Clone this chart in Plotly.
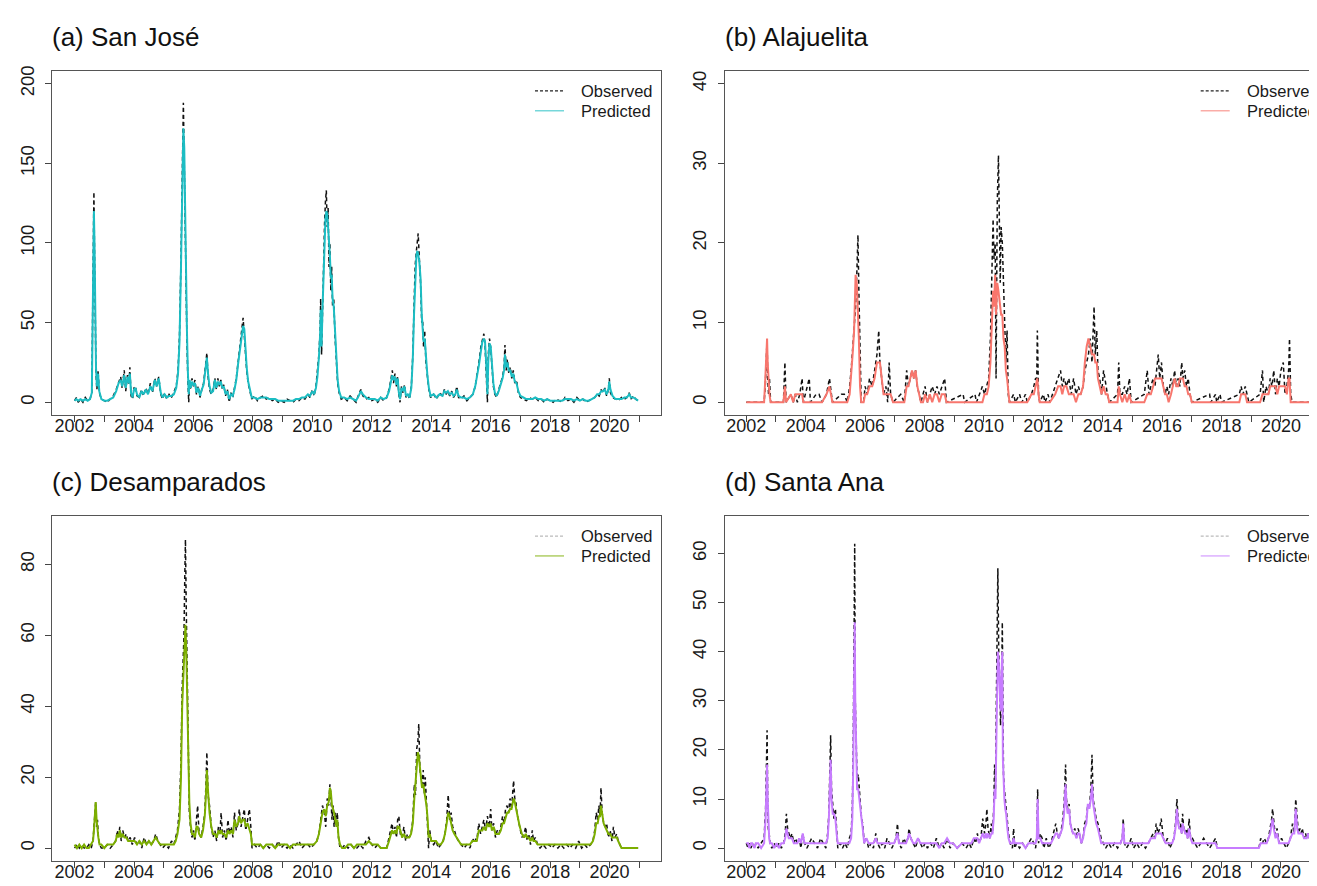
import plotly.graph_objects as go

# ---------------- data (decimal years, weekly counts) ----------------
# (a) San José
sj_t = [2002.00, 2002.06, 2002.12, 2002.20, 2002.28, 2002.36, 2002.44, 2002.52, 2002.58, 2002.61,
        2002.63, 2002.65, 2002.67, 2002.69, 2002.72, 2002.75, 2002.79, 2002.83, 2002.90, 2003.00,
        2003.10, 2003.20, 2003.30, 2003.40, 2003.48, 2003.55, 2003.60, 2003.67, 2003.72, 2003.78,
        2003.83, 2003.86, 2003.90, 2003.95, 2004.00, 2004.05, 2004.10, 2004.18, 2004.25, 2004.32,
        2004.40, 2004.47, 2004.55, 2004.62, 2004.70, 2004.76, 2004.83, 2004.90, 2004.96, 2005.03,
        2005.10, 2005.18, 2005.26, 2005.34, 2005.42, 2005.48, 2005.53, 2005.58, 2005.62, 2005.66,
        2005.69, 2005.72, 2005.75, 2005.78, 2005.81, 2005.84, 2005.87, 2005.91, 2005.95, 2006.00,
        2006.05, 2006.10, 2006.16, 2006.22, 2006.28, 2006.34, 2006.40, 2006.45, 2006.49, 2006.54,
        2006.60, 2006.66, 2006.72, 2006.77, 2006.82, 2006.87, 2006.92, 2006.97, 2007.02, 2007.08,
        2007.14, 2007.20, 2007.26, 2007.32, 2007.38, 2007.44, 2007.50, 2007.56, 2007.62, 2007.67,
        2007.71, 2007.75, 2007.79, 2007.84, 2007.90, 2007.96, 2008.05, 2008.15, 2008.25, 2008.35,
        2008.45, 2008.55, 2008.65, 2008.75, 2008.85, 2008.95, 2009.05, 2009.15, 2009.25, 2009.35,
        2009.45, 2009.55, 2009.65, 2009.75, 2009.85, 2009.92, 2010.00, 2010.06, 2010.12, 2010.17,
        2010.22, 2010.26, 2010.28, 2010.31, 2010.34, 2010.37, 2010.41, 2010.44, 2010.47, 2010.50,
        2010.53, 2010.56, 2010.59, 2010.62, 2010.65, 2010.68, 2010.72, 2010.76, 2010.80, 2010.85,
        2010.90, 2010.97, 2011.07, 2011.17, 2011.27, 2011.37, 2011.47, 2011.56, 2011.63, 2011.70,
        2011.80, 2011.90, 2012.00, 2012.10, 2012.20, 2012.30, 2012.40, 2012.50, 2012.58, 2012.64,
        2012.69, 2012.73, 2012.78, 2012.83, 2012.87, 2012.91, 2012.95, 2013.00, 2013.05, 2013.10,
        2013.15, 2013.21, 2013.27, 2013.33, 2013.38, 2013.42, 2013.46, 2013.50, 2013.53, 2013.56,
        2013.60, 2013.64, 2013.68, 2013.71, 2013.74, 2013.78, 2013.82, 2013.87, 2013.92, 2013.98,
        2014.08, 2014.18, 2014.28, 2014.38, 2014.44, 2014.50, 2014.56, 2014.62, 2014.69, 2014.75,
        2014.81, 2014.86, 2014.92, 2015.00, 2015.10, 2015.20, 2015.30, 2015.40, 2015.48, 2015.55,
        2015.61, 2015.67, 2015.72, 2015.77, 2015.81, 2015.85, 2015.89, 2015.92, 2015.96, 2016.00,
        2016.04, 2016.09, 2016.14, 2016.20, 2016.27, 2016.34, 2016.40, 2016.45, 2016.48, 2016.52,
        2016.56, 2016.61, 2016.66, 2016.71, 2016.76, 2016.81, 2016.87, 2016.93, 2017.00, 2017.10,
        2017.20, 2017.30, 2017.40, 2017.50, 2017.60, 2017.70, 2017.80, 2017.90, 2018.00, 2018.10,
        2018.20, 2018.30, 2018.40, 2018.50, 2018.60, 2018.70, 2018.80, 2018.90, 2019.00, 2019.10,
        2019.20, 2019.30, 2019.40, 2019.50, 2019.58, 2019.65, 2019.72, 2019.78, 2019.84, 2019.90,
        2019.96, 2019.99, 2020.03, 2020.10, 2020.20, 2020.30, 2020.40, 2020.50, 2020.58, 2020.66,
        2020.72, 2020.80, 2020.88, 2020.96]
sj_obs = [1, 3, 0, 2, 0, 3, 1, 2, 6, 60,
          118, 132, 95, 60, 18, 8, 20, 6, 2, 1,
          0, 2, 4, 8, 13, 16, 9, 20, 7, 17,
          11, 22, 4, 2, 9, 10, 4, 3, 8, 4,
          9, 5, 12, 6, 15, 10, 16, 5, 2, 6,
          2, 5, 3, 6, 10, 20, 42, 90, 150, 188,
          150, 100, 62, 38, 15, 0, 12, 8, 15, 10,
          14, 5, 10, 3, 8, 12, 22, 31, 16, 8,
          5, 8, 15, 8, 15, 10, 14, 8, 11, 4,
          8, 0, 6, 3, 9, 15, 25, 36, 46, 53,
          42, 30, 20, 12, 6, 2, 4, 1, 3, 4,
          2, 3, 1, 2, 0, 1, 0, 2, 1, 0,
          2, 1, 3, 2, 5, 3, 8, 4, 10, 18,
          30, 45, 65, 30, 62, 85, 112, 126, 133, 110,
          122, 85, 100, 70, 85, 60, 65, 42, 26, 12,
          6, 2, 3, 1, 4, 2, 0, 5, 8, 4,
          2, 3, 1, 2, 0, 3, 1, 3, 8, 14,
          20, 12, 18, 10, 16, 5, 0, 10, 6, 11,
          3, 5, 2, 10, 30, 60, 86, 95, 100, 106,
          90, 75, 50, 52, 35, 45, 25, 15, 8, 3,
          5, 2, 6, 4, 8, 5, 7, 4, 7, 3,
          5, 10, 3, 2, 4, 1, 3, 5, 10, 18,
          26, 35, 40, 43, 36, 20, 0, 30, 40, 34,
          20, 10, 5, 3, 8, 12, 16, 22, 36, 20,
          27, 18, 22, 15, 20, 12, 14, 6, 3, 2,
          1, 3, 2, 3, 1, 2, 0, 2, 1, 0,
          2, 1, 0, 3, 1, 2, 0, 3, 1, 2,
          0, 1, 2, 3, 5, 4, 8, 6, 9, 4,
          8, 15, 6, 3, 2, 1, 3, 2, 3, 6,
          2, 4, 2, 1]
sj_pred = [1, 2, 1, 2, 1, 2, 1, 2, 6, 55,
           110, 120, 100, 65, 22, 10, 18, 7, 2, 1,
           1, 2, 3, 7, 12, 14, 10, 17, 9, 16,
           12, 18, 6, 3, 8, 9, 5, 3, 7, 5,
           8, 5, 10, 7, 14, 10, 15, 6, 3, 5,
           3, 4, 4, 5, 9, 18, 38, 85, 140, 172,
           160, 112, 70, 45, 20, 5, 14, 9, 13, 11,
           12, 6, 9, 4, 8, 11, 20, 28, 18, 10,
           6, 7, 14, 9, 13, 11, 13, 9, 10, 5,
           7, 2, 5, 4, 8, 14, 24, 32, 42, 48,
           46, 33, 22, 13, 7, 3, 3, 2, 3, 3,
           3, 2, 2, 2, 1, 1, 1, 1, 1, 1,
           2, 2, 3, 3, 5, 4, 7, 5, 9, 16,
           28, 42, 58, 35, 58, 80, 102, 115, 120, 118,
           110, 95, 92, 78, 80, 65, 60, 46, 29, 14,
           7, 3, 3, 2, 3, 2, 1, 4, 7, 5,
           3, 2, 2, 2, 1, 3, 2, 3, 7, 12,
           17, 14, 16, 11, 15, 6, 2, 9, 7, 10,
           4, 5, 3, 9, 28, 55, 80, 92, 95, 93,
           88, 78, 55, 48, 38, 40, 28, 17, 9, 4,
           5, 3, 5, 4, 7, 6, 7, 5, 6, 4,
           5, 8, 4, 3, 3, 2, 3, 5, 10, 17,
           24, 32, 38, 40, 38, 24, 5, 26, 37, 35,
           24, 12, 6, 4, 7, 11, 15, 20, 30, 22,
           25, 20, 20, 16, 18, 13, 12, 7, 4, 3,
           2, 2, 2, 3, 2, 2, 1, 2, 1, 1,
           1, 1, 1, 2, 2, 2, 1, 2, 1, 2,
           1, 1, 2, 3, 5, 5, 7, 7, 8, 5,
           8, 13, 8, 4, 2, 2, 2, 3, 3, 5,
           3, 3, 2, 1]

# (b) Alajuelita
al_t = [2002.00, 2002.60, 2002.64, 2002.67, 2002.70, 2002.72, 2002.75, 2002.78, 2002.82, 2003.25,
        2003.30, 2003.34, 2003.50, 2003.58, 2003.65, 2003.72, 2003.80, 2003.88, 2003.92, 2004.12,
        2004.16, 2004.35, 2004.45, 2004.55, 2004.70, 2004.80, 2004.85, 2004.90, 2005.20, 2005.30,
        2005.40, 2005.48, 2005.53, 2005.58, 2005.63, 2005.68, 2005.72, 2005.76, 2005.79, 2005.83,
        2005.87, 2005.95, 2006.00, 2006.07, 2006.15, 2006.24, 2006.32, 2006.40, 2006.46, 2006.50,
        2006.56, 2006.62, 2006.70, 2006.76, 2006.81, 2006.86, 2006.94, 2007.20, 2007.32, 2007.40,
        2007.46, 2007.52, 2007.58, 2007.64, 2007.70, 2007.76, 2007.82, 2007.88, 2007.95, 2008.02,
        2008.10, 2008.18, 2008.26, 2008.34, 2008.42, 2008.50, 2008.58, 2008.68, 2008.74, 2009.30,
        2009.35, 2009.70, 2009.75, 2009.95, 2010.02, 2010.10, 2010.16, 2010.22, 2010.27, 2010.31,
        2010.34, 2010.38, 2010.41, 2010.45, 2010.49, 2010.52, 2010.55, 2010.58, 2010.62, 2010.66,
        2010.70, 2010.74, 2010.78, 2010.82, 2010.86, 2011.00, 2011.06, 2011.20, 2011.28, 2011.40,
        2011.46, 2011.60, 2011.68, 2011.74, 2011.78, 2011.80, 2011.84, 2011.88, 2012.00, 2012.06,
        2012.16, 2012.22, 2012.40, 2012.50, 2012.58, 2012.64, 2012.70, 2012.78, 2012.86, 2012.94,
        2013.02, 2013.10, 2013.18, 2013.26, 2013.34, 2013.40, 2013.46, 2013.52, 2013.58, 2013.64,
        2013.71, 2013.75, 2013.80, 2013.84, 2013.90, 2013.96, 2014.03, 2014.10, 2014.16, 2014.22,
        2014.50, 2014.54, 2014.58, 2014.66, 2014.74, 2014.82, 2014.90, 2014.96, 2015.40, 2015.50,
        2015.56, 2015.62, 2015.70, 2015.76, 2015.82, 2015.87, 2015.92, 2015.98, 2016.04, 2016.10,
        2016.16, 2016.22, 2016.30, 2016.36, 2016.42, 2016.48, 2016.54, 2016.60, 2016.66, 2016.70,
        2016.76, 2016.82, 2016.88, 2016.94, 2017.00, 2017.60, 2017.64, 2017.80, 2017.84, 2017.95,
        2018.00, 2018.60, 2018.66, 2018.72, 2018.80, 2018.86, 2018.92, 2019.30, 2019.38, 2019.42,
        2019.50, 2019.58, 2019.64, 2019.70, 2019.76, 2019.82, 2019.88, 2019.94, 2020.00, 2020.08,
        2020.14, 2020.20, 2020.26, 2020.29, 2020.33, 2020.38, 2020.96]
al_obs = [0, 0, 2, 6, 8, 3, 1, 3, 0, 0,
          5, 0, 1, 0, 1, 0, 1, 3, 0, 3,
          0, 1, 1, 0, 1, 3, 1, 0, 1, 1,
          0, 2, 4, 7, 9, 12, 16, 21, 14, 7,
          0, 0, 2, 1, 3, 2, 4, 6, 9, 5,
          3, 1, 2, 0, 5, 1, 0, 1, 0, 4,
          2, 3, 4, 3, 4, 2, 1, 0, 1, 2,
          0, 1, 2, 1, 2, 1, 2, 3, 0, 1,
          0, 1, 0, 2, 1, 2, 3, 8, 15, 23,
          18, 20, 3, 25, 31, 22, 15, 22, 20, 15,
          10, 5, 9, 1, 0, 1, 0, 1, 0, 1,
          0, 1, 2, 3, 3, 9, 1, 0, 1, 0,
          1, 0, 2, 3, 4, 2, 3, 2, 3, 1,
          3, 1, 2, 1, 2, 4, 5, 6, 8, 5,
          12, 6, 9, 4, 3, 1, 4, 2, 1, 0,
          1, 5, 1, 1, 2, 1, 3, 0, 1, 4,
          1, 2, 3, 2, 4, 6, 3, 5, 2, 1,
          2, 1, 3, 2, 4, 2, 3, 2, 5, 3,
          4, 2, 3, 1, 0, 1, 0, 1, 0, 1,
          0, 1, 2, 1, 2, 1, 0, 1, 4, 0,
          2, 1, 3, 2, 4, 1, 3, 2, 4, 5,
          1, 2, 4, 8, 1, 0, 0]
al_pred = [0, 0, 3, 6, 8, 5, 2, 1, 0, 0,
           2, 0, 1, 0, 1, 1, 1, 1, 0, 0,
           0, 0, 0, 0, 1, 2, 1, 0, 0, 0,
           0, 1, 3, 6, 9, 16, 15, 12, 8, 2,
           0, 0, 1, 1, 2, 2, 3, 5, 5, 5,
           3, 1, 1, 1, 1, 1, 0, 0, 0, 2,
           2, 3, 4, 3, 4, 2, 1, 0, 0, 1,
           0, 1, 0, 1, 1, 0, 1, 1, 0, 0,
           0, 0, 0, 0, 1, 1, 2, 5, 10, 14,
           12, 16, 11, 15, 14, 13, 12, 11, 11, 8,
           7, 4, 3, 1, 0, 0, 0, 0, 0, 0,
           0, 1, 1, 2, 3, 3, 1, 0, 0, 0,
           0, 0, 1, 2, 2, 1, 2, 2, 1, 1,
           1, 0, 1, 1, 2, 5, 7, 8, 7, 6,
           6, 5, 5, 3, 2, 1, 2, 1, 1, 0,
           0, 2, 1, 0, 1, 0, 1, 0, 0, 1,
           1, 1, 2, 3, 3, 3, 3, 3, 2, 1,
           1, 0, 1, 2, 3, 2, 2, 3, 3, 3,
           2, 2, 1, 1, 0, 0, 0, 0, 0, 0,
           0, 0, 1, 1, 1, 0, 0, 0, 1, 1,
           1, 1, 2, 2, 2, 2, 1, 2, 2, 2,
           2, 1, 3, 3, 0, 0, 0]

# (c) Desamparados
de_t = [2002.00, 2002.08, 2002.16, 2002.24, 2002.32, 2002.40, 2002.48, 2002.56, 2002.62, 2002.66,
        2002.69, 2002.71, 2002.74, 2002.77, 2002.80, 2002.84, 2002.90, 2003.00, 2003.10, 2003.20,
        2003.30, 2003.38, 2003.44, 2003.48, 2003.52, 2003.57, 2003.62, 2003.68, 2003.74, 2003.80,
        2003.87, 2003.94, 2004.02, 2004.10, 2004.18, 2004.26, 2004.34, 2004.42, 2004.50, 2004.58,
        2004.66, 2004.73, 2004.80, 2004.88, 2004.96, 2005.06, 2005.16, 2005.26, 2005.34, 2005.40,
        2005.46, 2005.53, 2005.58, 2005.62, 2005.65, 2005.68, 2005.71, 2005.73, 2005.76, 2005.79,
        2005.82, 2005.86, 2005.90, 2005.95, 2006.00, 2006.05, 2006.10, 2006.14, 2006.19, 2006.26,
        2006.32, 2006.38, 2006.42, 2006.45, 2006.49, 2006.54, 2006.60, 2006.66, 2006.72, 2006.78,
        2006.84, 2006.89, 2006.93, 2006.98, 2007.04, 2007.10, 2007.16, 2007.21, 2007.27, 2007.33,
        2007.38, 2007.44, 2007.50, 2007.54, 2007.60, 2007.66, 2007.71, 2007.76, 2007.82, 2007.88,
        2007.93, 2007.97, 2008.05, 2008.15, 2008.25, 2008.35, 2008.45, 2008.55, 2008.65, 2008.75,
        2008.85, 2008.95, 2009.05, 2009.15, 2009.25, 2009.35, 2009.45, 2009.55, 2009.65, 2009.75,
        2009.85, 2009.95, 2010.05, 2010.15, 2010.22, 2010.28, 2010.34, 2010.40, 2010.45, 2010.50,
        2010.55, 2010.59, 2010.62, 2010.66, 2010.70, 2010.73, 2010.77, 2010.81, 2010.84, 2010.88,
        2010.93, 2011.00, 2011.10, 2011.20, 2011.30, 2011.40, 2011.50, 2011.60, 2011.70, 2011.80,
        2011.90, 2012.00, 2012.10, 2012.20, 2012.30, 2012.40, 2012.50, 2012.58, 2012.63, 2012.68,
        2012.73, 2012.78, 2012.83, 2012.87, 2012.91, 2012.96, 2013.02, 2013.08, 2013.14, 2013.20,
        2013.26, 2013.32, 2013.38, 2013.43, 2013.47, 2013.51, 2013.55, 2013.58, 2013.62, 2013.66,
        2013.69, 2013.73, 2013.77, 2013.80, 2013.84, 2013.88, 2013.91, 2013.95, 2014.00, 2014.08,
        2014.16, 2014.24, 2014.32, 2014.40, 2014.46, 2014.52, 2014.57, 2014.62, 2014.67, 2014.72,
        2014.78, 2014.85, 2014.92, 2015.00, 2015.10, 2015.20, 2015.30, 2015.38, 2015.46, 2015.53,
        2015.60, 2015.66, 2015.72, 2015.77, 2015.83, 2015.89, 2015.95, 2016.00, 2016.04, 2016.10,
        2016.16, 2016.22, 2016.28, 2016.34, 2016.40, 2016.45, 2016.50, 2016.55, 2016.60, 2016.65,
        2016.70, 2016.74, 2016.77, 2016.81, 2016.85, 2016.88, 2016.93, 2016.98, 2017.05, 2017.12,
        2017.18, 2017.22, 2017.28, 2017.34, 2017.40, 2017.44, 2017.50, 2017.58, 2017.66, 2017.76,
        2017.86, 2017.96, 2018.06, 2018.16, 2018.26, 2018.36, 2018.46, 2018.56, 2018.66, 2018.76,
        2018.86, 2018.96, 2019.06, 2019.16, 2019.26, 2019.36, 2019.44, 2019.50, 2019.55, 2019.60,
        2019.64, 2019.68, 2019.71, 2019.75, 2019.80, 2019.85, 2019.90, 2019.96, 2020.02, 2020.08,
        2020.13, 2020.18, 2020.24, 2020.29, 2020.34, 2020.40, 2020.60, 2020.96]
de_obs = [0, 1, 0, 1, 0, 0, 1, 0, 2, 6,
          11, 13, 6, 8, 3, 1, 0, 0, 1, 0,
          1, 2, 5, 3, 6, 2, 5, 3, 4, 2,
          3, 1, 3, 1, 2, 0, 3, 1, 2, 1,
          2, 4, 2, 1, 0, 1, 0, 2, 1, 3,
          5, 11, 25, 45, 52, 60, 78, 87, 66, 48,
          25, 10, 6, 3, 5, 2, 8, 12, 4, 3,
          6, 10, 18, 27, 15, 12, 6, 3, 5, 2,
          6, 4, 10, 3, 5, 2, 8, 4, 6, 3,
          10, 5, 7, 11, 6, 9, 11, 5, 8, 11,
          6, 0, 1, 0, 1, 0, 1, 0, 1, 0,
          2, 0, 1, 0, 1, 0, 1, 2, 0, 1,
          1, 0, 1, 2, 4, 8, 12, 10, 6, 14,
          12, 18, 15, 8, 12, 6, 10, 7, 10, 3,
          0, 0, 1, 0, 1, 0, 0, 1, 0, 2,
          3, 1, 0, 1, 0, 0, 0, 3, 5, 7,
          4, 6, 3, 8, 9, 4, 3, 6, 2, 4,
          3, 4, 8, 18, 15, 28, 30, 35, 22, 20,
          18, 22, 15, 20, 12, 8, 0, 5, 2, 1,
          2, 0, 1, 2, 4, 8, 15, 8, 10, 6,
          5, 3, 2, 1, 0, 1, 0, 2, 3, 2,
          7, 4, 6, 8, 5, 9, 6, 11, 5, 7,
          3, 5, 4, 6, 9, 7, 11, 12, 10, 14,
          11, 16, 19, 14, 13, 10, 8, 5, 3, 4,
          6, 2, 4, 1, 5, 2, 3, 1, 0, 1,
          0, 1, 0, 1, 0, 1, 0, 1, 0, 1,
          0, 2, 0, 1, 0, 1, 2, 5, 10, 8,
          12, 9, 17, 10, 7, 6, 7, 3, 5, 2,
          6, 3, 4, 2, 1, 0, 0, 0]
de_pred = [1, 0, 1, 0, 1, 0, 0, 1, 2, 6,
           10, 13, 8, 5, 3, 1, 1, 0, 1, 1,
           1, 2, 4, 3, 5, 3, 4, 3, 3, 2,
           2, 2, 2, 1, 2, 1, 2, 1, 2, 1,
           2, 3, 2, 1, 1, 1, 1, 1, 1, 2,
           4, 8, 20, 40, 46, 50, 60, 63, 55, 42,
           28, 13, 7, 4, 4, 3, 6, 6, 4, 3,
           5, 9, 15, 22, 16, 10, 6, 4, 4, 3,
           5, 4, 5, 4, 4, 3, 5, 4, 5, 4,
           8, 6, 7, 9, 7, 8, 8, 6, 7, 5,
           4, 1, 1, 1, 1, 0, 1, 1, 1, 0,
           1, 1, 1, 1, 0, 1, 1, 1, 1, 1,
           1, 1, 1, 2, 4, 7, 10, 11, 9, 12,
           13, 17, 16, 12, 11, 10, 8, 6, 8, 3,
           1, 0, 0, 1, 1, 0, 1, 1, 1, 1,
           2, 1, 1, 1, 0, 0, 0, 2, 4, 5,
           4, 5, 4, 6, 6, 5, 3, 4, 3, 3,
           3, 4, 7, 14, 18, 24, 27, 26, 22, 18,
           17, 18, 16, 15, 12, 8, 3, 4, 2, 2,
           2, 1, 1, 2, 4, 7, 10, 9, 7, 5,
           4, 3, 2, 1, 1, 1, 1, 2, 2, 2,
           5, 5, 5, 6, 5, 7, 6, 7, 5, 6,
           4, 4, 4, 5, 7, 7, 9, 10, 10, 11,
           11, 13, 14, 13, 11, 10, 8, 6, 4, 3,
           4, 3, 3, 2, 3, 2, 2, 1, 1, 1,
           1, 1, 1, 1, 1, 1, 1, 1, 1, 1,
           1, 1, 1, 1, 1, 1, 2, 4, 7, 7,
           9, 9, 12, 9, 7, 6, 5, 4, 4, 3,
           3, 3, 3, 2, 1, 0, 0, 0]

# (d) Santa Ana
sa_t = [2002.00, 2002.06, 2002.10, 2002.16, 2002.20, 2002.28, 2002.32, 2002.40, 2002.50, 2002.60,
        2002.65, 2002.68, 2002.70, 2002.72, 2002.74, 2002.77, 2002.80, 2002.86, 2002.94, 2003.02,
        2003.10, 2003.18, 2003.26, 2003.31, 2003.35, 2003.39, 2003.43, 2003.48, 2003.54, 2003.60,
        2003.66, 2003.72, 2003.78, 2003.84, 2003.90, 2003.96, 2004.04, 2004.12, 2004.20, 2004.30,
        2004.40, 2004.50, 2004.60, 2004.68, 2004.74, 2004.78, 2004.81, 2004.84, 2004.87, 2004.91,
        2004.95, 2005.00, 2005.04, 2005.08, 2005.16, 2005.24, 2005.32, 2005.40, 2005.47, 2005.53,
        2005.57, 2005.60, 2005.63, 2005.65, 2005.67, 2005.70, 2005.73, 2005.77, 2005.80, 2005.84,
        2005.88, 2005.92, 2005.97, 2006.04, 2006.12, 2006.20, 2006.28, 2006.36, 2006.42, 2006.50,
        2006.58, 2006.66, 2006.74, 2006.82, 2006.90, 2006.98, 2007.04, 2007.09, 2007.14, 2007.22,
        2007.30, 2007.38, 2007.44, 2007.48, 2007.54, 2007.62, 2007.70, 2007.78, 2007.86, 2007.94,
        2008.02, 2008.10, 2008.20, 2008.30, 2008.40, 2008.50, 2008.58, 2008.66, 2008.76, 2008.86,
        2008.96, 2009.10, 2009.26, 2009.40, 2009.50, 2009.58, 2009.66, 2009.72, 2009.78, 2009.84,
        2009.90, 2009.96, 2010.02, 2010.07, 2010.10, 2010.14, 2010.20, 2010.25, 2010.29, 2010.33,
        2010.36, 2010.39, 2010.42, 2010.45, 2010.47, 2010.50, 2010.53, 2010.56, 2010.59, 2010.62,
        2010.64, 2010.66, 2010.69, 2010.72, 2010.75, 2010.79, 2010.83, 2010.88, 2010.96, 2011.00,
        2011.04, 2011.10, 2011.20, 2011.30, 2011.40, 2011.50, 2011.60, 2011.68, 2011.74, 2011.78,
        2011.81, 2011.84, 2011.90, 2011.96, 2012.02, 2012.10, 2012.18, 2012.26, 2012.34, 2012.42,
        2012.47, 2012.52, 2012.58, 2012.64, 2012.70, 2012.75, 2012.78, 2012.82, 2012.87, 2012.91,
        2012.95, 2013.00, 2013.06, 2013.12, 2013.17, 2013.22, 2013.28, 2013.34, 2013.39, 2013.45,
        2013.50, 2013.55, 2013.60, 2013.64, 2013.68, 2013.73, 2013.78, 2013.84, 2013.90, 2013.95,
        2014.02, 2014.10, 2014.20, 2014.30, 2014.40, 2014.50, 2014.60, 2014.66, 2014.69, 2014.73,
        2014.80, 2014.90, 2014.96, 2015.04, 2015.14, 2015.24, 2015.34, 2015.44, 2015.54, 2015.62,
        2015.70, 2015.76, 2015.80, 2015.86, 2015.92, 2015.97, 2016.04, 2016.12, 2016.18, 2016.26,
        2016.34, 2016.40, 2016.45, 2016.50, 2016.54, 2016.58, 2016.62, 2016.66, 2016.69, 2016.73,
        2016.78, 2016.82, 2016.86, 2016.91, 2016.96, 2017.02, 2017.10, 2017.20, 2017.30, 2017.40,
        2017.50, 2017.60, 2017.70, 2017.80, 2017.86, 2019.26, 2019.32, 2019.38, 2019.44, 2019.52,
        2019.58, 2019.64, 2019.69, 2019.72, 2019.76, 2019.82, 2019.87, 2019.94, 2020.02, 2020.10,
        2020.18, 2020.26, 2020.32, 2020.39, 2020.45, 2020.50, 2020.55, 2020.59, 2020.64, 2020.68,
        2020.72, 2020.78, 2020.83, 2020.87, 2020.92, 2020.96]
sa_obs = [1, 0, 1, 0, 1, 0, 1, 0, 1, 2,
          8, 20, 24, 10, 4, 3, 1, 0, 1, 0,
          1, 0, 1, 3, 7, 4, 3, 2, 3, 1,
          2, 1, 2, 0, 3, 1, 0, 1, 2, 1,
          0, 2, 1, 0, 3, 7, 15, 23, 12, 8,
          6, 8, 4, 0, 1, 0, 1, 0, 2, 3,
          8, 20, 45, 62, 30, 18, 14, 15, 12, 10,
          6, 5, 1, 2, 0, 1, 0, 3, 1, 0,
          1, 0, 2, 1, 0, 1, 2, 5, 1, 0,
          2, 1, 2, 4, 2, 1, 0, 2, 1, 0,
          1, 0, 1, 0, 2, 0, 1, 0, 2, 0,
          1, 0, 1, 0, 1, 0, 2, 1, 3, 1,
          2, 6, 3, 5, 8, 4, 2, 5, 3, 8,
          17, 12, 30, 45, 57, 40, 35, 25, 30, 46,
          20, 15, 12, 10, 8, 5, 3, 1, 0, 4,
          0, 1, 0, 1, 0, 1, 2, 1, 0, 2,
          12, 1, 3, 2, 0, 2, 0, 1, 3, 5,
          3, 2, 3, 5, 9, 17, 10, 8, 9, 5,
          4, 3, 4, 2, 4, 3, 1, 2, 5, 6,
          9, 8, 12, 19, 10, 8, 6, 5, 3, 2,
          1, 0, 1, 0, 1, 0, 1, 2, 6, 1,
          0, 1, 2, 0, 1, 0, 1, 0, 1, 2,
          3, 2, 5, 3, 4, 6, 2, 1, 2, 0,
          1, 2, 5, 10, 6, 4, 5, 3, 7, 4,
          3, 4, 2, 6, 2, 2, 1, 0, 1, 2,
          1, 0, 1, 2, 0, 0, 2, 1, 2, 1,
          2, 4, 6, 8, 5, 2, 4, 1, 2, 1,
          0, 1, 2, 5, 3, 10, 5, 3, 4, 3,
          4, 2, 3, 2, 3, 2]
sa_pred = [1, 1, 0, 1, 1, 0, 1, 1, 0, 1,
           6, 15, 17, 10, 4, 2, 1, 1, 0, 1,
           0, 1, 1, 2, 4, 3, 2, 2, 2, 1,
           1, 1, 2, 1, 3, 1, 1, 1, 1, 1,
           1, 1, 1, 1, 2, 6, 12, 18, 10, 7,
           7, 6, 3, 1, 1, 1, 1, 1, 1, 2,
           6, 16, 35, 46, 30, 15, 12, 12, 10, 8,
           6, 4, 1, 2, 1, 1, 1, 2, 1, 1,
           1, 1, 1, 1, 1, 1, 2, 3, 1, 1,
           1, 1, 2, 3, 2, 1, 1, 2, 1, 1,
           1, 1, 1, 1, 1, 0, 1, 1, 2, 1,
           1, 0, 1, 1, 1, 1, 2, 2, 2, 1,
           2, 3, 2, 3, 2, 3, 2, 3, 3, 6,
           12, 10, 22, 35, 40, 38, 30, 28, 35, 40,
           18, 12, 10, 8, 7, 4, 2, 1, 1, 2,
           1, 1, 1, 1, 0, 1, 1, 1, 1, 2,
           10, 2, 2, 1, 1, 1, 1, 1, 2, 3,
           3, 2, 3, 4, 7, 13, 9, 7, 8, 5,
           4, 3, 3, 2, 3, 3, 1, 2, 4, 5,
           9, 8, 10, 13, 9, 7, 5, 4, 2, 1,
           1, 1, 1, 1, 1, 1, 1, 2, 5, 1,
           1, 1, 1, 1, 1, 1, 1, 1, 1, 2,
           2, 2, 3, 3, 3, 3, 2, 1, 1, 1,
           1, 2, 4, 8, 5, 4, 4, 3, 5, 4,
           3, 3, 2, 4, 2, 1, 1, 1, 1, 1,
           1, 1, 1, 1, 0, 0, 1, 1, 1, 1,
           2, 3, 5, 6, 4, 2, 3, 1, 1, 1,
           1, 1, 2, 3, 3, 8, 4, 3, 3, 3,
           3, 2, 2, 2, 3, 2]

titles = ["(a) San José", "(b) Alajuelita", "(c) Desamparados", "(d) Santa Ana"]
legend_labels = ["Observed", "Predicted"]
pred_colors = ["#1CBDC3", "#F8766D", "#7CAE00", "#C77CFF"]
obs_legend_colors = ["#222222", "#222222", "#BBBBBB", "#BBBBBB"]
y_tick_sets = [[0, 50, 100, 150, 200], [0, 10, 20, 30, 40],
               [0, 20, 40, 60, 80], [0, 10, 20, 30, 40, 50, 60]]
y_limits = [(0, 200), (0, 40), (0, 90), (0, 65)]
year_ticks = list(range(2002, 2022))
year_labels = [str(y) if y % 2 == 0 else "" for y in year_ticks]

panels = [(sj_t, sj_obs, sj_pred), (al_t, al_obs, al_pred),
          (de_t, de_obs, de_pred), (sa_t, sa_obs, sa_pred)]

# ---------------- layout geometry (pixels) ----------------
W, H = 1317, 886
FONT = "Liberation Sans, Arial, Helvetica, sans-serif"
box_x = [(44, 652.7), (716.7, 1317), (44, 652.7), (716.7, 1317)]
box_y = [(58.3, 404.3), (58.3, 404.3), (506, 852.7), (506, 852.7)]
x_ranges = [(2001.24, 2021.72), (2001.273, 2021.485), (2001.24, 2021.72), (2001.273, 2021.485)]


def px(x):
    return x / W


def py(y):
    return 1 - y / H


fig = go.Figure()
shapes = []
annotations = []
axis_common = dict(showgrid=False, zeroline=False, ticks="outside", ticklen=6, tickwidth=1,
                   tickcolor="#444", linecolor="#555", linewidth=1.2, showline=True)

for i, (t, obs, pred) in enumerate(panels):
    n = i + 1
    xa = "x" if n == 1 else f"x{n}"
    ya = "y" if n == 1 else f"y{n}"
    fig.add_trace(go.Scatter(x=t, y=obs, mode="lines", xaxis=xa, yaxis=ya, showlegend=False,
                             line=dict(color="#111111", width=1.5, dash="4px,3px"),
                             name="Observed"))
    fig.add_trace(go.Scatter(x=t, y=pred, mode="lines", xaxis=xa, yaxis=ya, showlegend=False,
                             line=dict(color=pred_colors[i], width=2), name="Predicted"))

    lo, hi = y_limits[i]
    ext = 0.04 * (hi - lo)
    right_panel = i in (1, 3)
    fig.layout[f"xaxis{'' if n == 1 else n}"] = dict(
        axis_common, domain=[px(box_x[i][0]), px(box_x[i][1])], range=list(x_ranges[i]),
        anchor=ya, tickvals=year_ticks, ticktext=year_labels, mirror=True,
        ticklabelstandoff=-12, tickfont=dict(family=FONT, size=18, color="#1a1a1a"))
    fig.layout[f"yaxis{'' if n == 1 else n}"] = dict(
        axis_common, domain=[py(box_y[i][1]), py(box_y[i][0])], range=[lo - ext, hi + ext],
        anchor=xa, tickvals=y_tick_sets[i], tickangle=-90, mirror=not right_panel,
        ticklabelstandoff=4, tickfont=dict(family=FONT, size=18.5, color="#1a1a1a"))

    # title
    annotations.append(dict(text=titles[i], x=px(box_x[i][0] - 2), y=py(box_y[i][0] - 34),
                            xref="paper", yref="paper", xanchor="left", yanchor="middle",
                            showarrow=False, font=dict(family=FONT, size=26, color="#111")))
    # legend
    lx0 = box_x[i][0] + (483 if not right_panel else 476)
    ly_obs = box_y[i][0] + 20
    ly_pred = box_y[i][0] + 40
    shapes.append(dict(type="line", xref="paper", yref="paper", x0=px(lx0), x1=px(lx0 + 29),
                       y0=py(ly_obs), y1=py(ly_obs),
                       line=dict(color=obs_legend_colors[i], width=1.3, dash="3px,2px")))
    shapes.append(dict(type="line", xref="paper", yref="paper", x0=px(lx0), x1=px(lx0 + 29),
                       y0=py(ly_pred), y1=py(ly_pred),
                       line=dict(color=pred_colors[i], width=1.5), opacity=0.6))
    for lab, yy in zip(legend_labels, [ly_obs, ly_pred]):
        annotations.append(dict(text=lab, x=px(lx0 + 44), y=py(yy), xref="paper", yref="paper",
                                xanchor="left", yanchor="middle", showarrow=False,
                                font=dict(family=FONT, size=16.5, color="#1a1a1a")))

fig.update_layout(width=W, height=H, margin=dict(l=0, r=0, t=0, b=0),
                  paper_bgcolor="white", plot_bgcolor="white", showlegend=False,
                  shapes=shapes, annotations=annotations)

fig.write_html("out.html")
